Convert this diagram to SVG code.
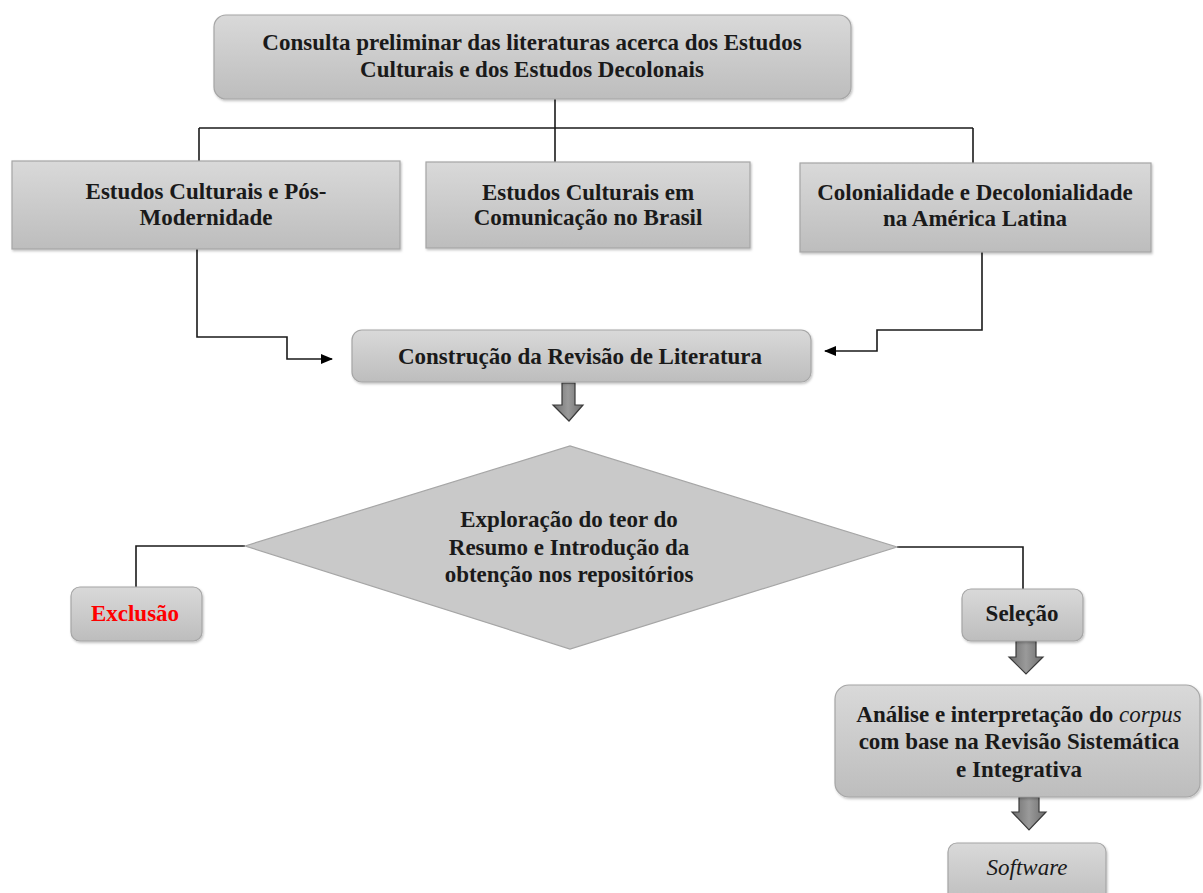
<svg xmlns="http://www.w3.org/2000/svg" width="1203" height="893" viewBox="0 0 1203 893">
<defs>
<linearGradient id="g" x1="0" y1="0" x2="0" y2="1">
<stop offset="0" stop-color="#d9d9d9"/>
<stop offset="1" stop-color="#bdbdbd"/>
</linearGradient>
<linearGradient id="ga" x1="0" y1="0" x2="1" y2="0">
<stop offset="0" stop-color="#6e6e6e"/>
<stop offset="0.5" stop-color="#9a9a9a"/>
<stop offset="1" stop-color="#6e6e6e"/>
</linearGradient>
<filter id="sh" x="-5%" y="-5%" width="110%" height="115%">
<feDropShadow dx="1" dy="1.5" stdDeviation="1" flood-color="#000" flood-opacity="0.25"/>
</filter>
<marker id="ah" markerWidth="12" markerHeight="10" refX="11" refY="5" orient="auto" markerUnits="userSpaceOnUse">
<path d="M0,0 L12,5 L0,10 Z" fill="#000"/>
</marker>
<style>
.box{fill:url(#g);stroke:#a6a6a6;stroke-width:1.2;filter:url(#sh)}
.dia{fill:#c9c9c9;stroke:#a6a6a6;stroke-width:1.2}
.t{font-family:"Liberation Serif","Times New Roman",serif;font-weight:bold;font-size:23px;fill:#1a1a1a;text-anchor:middle}
.it{font-style:italic;font-weight:normal}
.con{fill:none;stroke:#1a1a1a;stroke-width:1.6}
.blk{fill:url(#ga);stroke:#3a3a3a;stroke-width:1.2}
</style>
</defs>
<rect width="1203" height="893" fill="#fff"/>

<g id="connectors">
<path class="con" d="M555,99 V162"/>
<path class="con" d="M199,128 H973"/>
<path class="con" d="M199,128 V161"/>
<path class="con" d="M973,128 V163"/>
<path class="con" d="M197,249 V337 H287 V359 H332" marker-end="url(#ah)"/>
<path class="con" d="M982,252 V330 H877 V351 H825" marker-end="url(#ah)"/>
<path class="con" d="M245,546 H136 V587"/>
<path class="con" d="M897,547 H1023 V589"/>
<path class="blk" d="M562,383 H575 V405 H583 L569,421 L553,405 H562 Z"/>
<path class="blk" d="M1016,641 H1036 V657 H1043 L1026,674 L1009,657 H1016 Z"/>
<path class="blk" d="M1019,797 H1039 V812 H1046 L1029,830 L1012,812 H1019 Z"/>
</g>

<g id="n-consulta">
<rect class="box" x="214" y="15" width="637" height="84" rx="12"/>
<text class="t" x="532" y="50">Consulta preliminar das literaturas acerca dos Estudos</text>
<text class="t" x="532" y="77">Culturais e dos Estudos Decolonais</text>
</g>

<g id="n-posmodernidade">
<rect class="box" x="12" y="161" width="388" height="88"/>
<text class="t" x="206" y="199">Estudos Culturais e Pós-</text>
<text class="t" x="206" y="225">Modernidade</text>
</g>

<g id="n-comunicacao">
<rect class="box" x="426" y="162" width="324" height="86"/>
<text class="t" x="588" y="200">Estudos Culturais em</text>
<text class="t" x="588" y="225">Comunicação no Brasil</text>
</g>

<g id="n-colonialidade">
<rect class="box" x="800" y="163" width="351" height="89"/>
<text class="t" x="975" y="200">Colonialidade e Decolonialidade</text>
<text class="t" x="975" y="226">na América Latina</text>
</g>

<g id="n-construcao">
<rect class="box" x="352" y="330" width="459" height="52" rx="10"/>
<text class="t" x="580" y="364">Construção da Revisão de Literatura</text>
</g>

<g id="n-exploracao">
<polygon class="dia" points="245,546 570,446 897,547 570,649"/>
<text class="t" x="569" y="527">Exploração do teor do</text>
<text class="t" x="569" y="555">Resumo e Introdução da</text>
<text class="t" x="569" y="582">obtenção nos repositórios</text>
</g>

<g id="n-exclusao">
<rect class="box" x="71" y="587" width="131" height="54" rx="9"/>
<text class="t" x="135" y="621" style="fill:#ff0000">Exclusão</text>
</g>

<g id="n-selecao">
<rect class="box" x="962" y="589" width="121" height="52" rx="9"/>
<text class="t" x="1022" y="621">Seleção</text>
</g>

<g id="n-analise">
<rect class="box" x="835" y="685" width="365" height="112" rx="14"/>
<text class="t" x="1019" y="722">Análise e interpretação do <tspan class="it">corpus</tspan></text>
<text class="t" x="1019" y="749">com base na Revisão Sistemática</text>
<text class="t" x="1019" y="777">e Integrativa</text>
</g>

<g id="n-software">
<rect class="box" x="948" y="843" width="158" height="62" rx="9"/>
<text class="t it" x="1027" y="875">Software</text>
</g>
</svg>
